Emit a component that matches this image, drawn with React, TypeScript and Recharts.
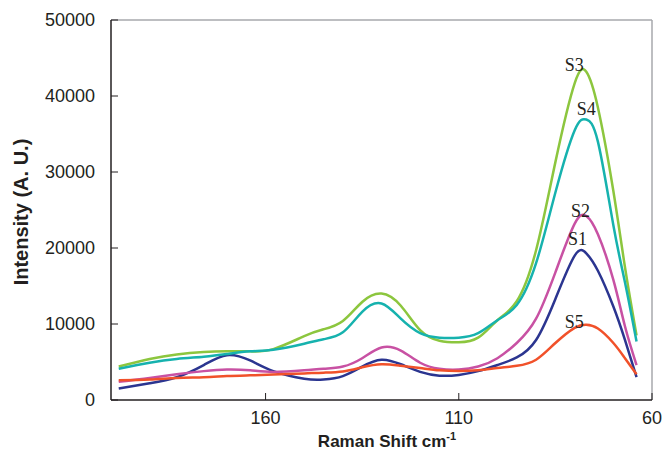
import { Line, LineChart, ReferenceDot, ReferenceLine, XAxis, YAxis, Label } from 'recharts';

// Raman shift (cm-1), plotted high -> low
const shifts = [198, 190, 183, 176, 170, 164, 158, 150, 145, 140, 135, 130, 125, 120, 115, 110, 105, 100, 95, 90, 85, 80, 77, 74, 70, 67, 64];

const s1 = [1500, 2200, 3000, 4600, 5900, 5200, 3800, 2800, 2700, 3150, 4400, 5300, 4700, 3700, 3200, 3300, 3800, 4600, 5600, 7900, 13300, 19000, 19300, 17000, 12300, 7900, 3000];
const s2 = [2400, 2900, 3400, 3800, 4000, 3900, 3700, 3900, 4100, 4400, 5500, 6900, 6500, 4900, 4100, 4000, 4400, 5500, 7500, 10700, 16800, 23200, 24200, 21800, 15800, 9700, 4600];
const s3 = [4400, 5400, 6000, 6300, 6400, 6400, 6700, 8400, 9300, 10400, 12900, 14000, 12400, 9200, 7800, 7600, 8200, 10500, 13000, 19700, 31300, 41700, 43200, 38500, 27500, 17500, 8500];
const s4 = [4100, 4900, 5400, 5700, 6050, 6400, 6600, 7400, 8000, 8900, 11600, 12700, 10700, 8800, 8200, 8200, 8800, 10500, 12500, 18000, 27300, 35500, 36900, 34000, 23000, 15500, 7700];
const s5 = [2600, 2700, 2900, 3000, 3150, 3250, 3350, 3500, 3600, 3750, 4300, 4700, 4500, 4200, 3900, 3800, 3900, 4200, 4500, 5300, 7500, 9500, 9900, 9400, 7500, 5500, 3400];

const xTicks = [160, 110, 60];
const yTicks = [0, 10000, 20000, 30000, 40000, 50000];

const series = [
  { key: 's1', name: 'S1', color: '#2b3590', label: [79.3, 21180] },
  { key: 's2', name: 'S2', color: '#c851a3', label: [78.5, 24870] },
  { key: 's3', name: 'S3', color: '#8cc63e', label: [80.1, 44080] },
  { key: 's4', name: 'S4', color: '#16b2ae', label: [77.0, 38290] },
  { key: 's5', name: 'S5', color: '#f1512a', label: [80.1, 10260] },
];

const data = shifts.map((x, i) => ({ x, s1: s1[i], s2: s2[i], s3: s3[i], s4: s4[i], s5: s5[i] }));

const AXIS = '#231f20';
const BOX = '#a7a9ac';
const SANS = 'Liberation Sans, Arial, sans-serif';

export default function App() {
  return (
    <div style={{ position: 'absolute', left: 0, top: 0 }}>
      <LineChart width={664} height={451} data={data} margin={{ top: 20, right: 12, left: 0, bottom: 0 }}>
        <XAxis
          dataKey="x"
          type="number"
          domain={[60, 200]}
          reversed
          ticks={xTicks}
          height={51}
          tickSize={-7}
          tickMargin={18}
          tick={{ fontSize: 18, fill: AXIS, fontFamily: SANS }}
          axisLine={{ stroke: AXIS, strokeWidth: 1.5 }}
          tickLine={{ stroke: AXIS }}
        >
          <Label
            content={() => (
              <text x={387} y={447} textAnchor="middle" fontFamily={SANS} fontWeight="bold" fontSize={17} fill={AXIS}>
                Raman Shift cm
                <tspan fontSize={11} dy={-7}>-1</tspan>
              </text>
            )}
          />
        </XAxis>
        <YAxis
          type="number"
          domain={[0, 50000]}
          ticks={yTicks}
          width={111}
          tickSize={-7}
          tickMargin={23}
          tick={{ fontSize: 18, fill: AXIS, fontFamily: SANS }}
          axisLine={{ stroke: AXIS, strokeWidth: 1.5 }}
          tickLine={{ stroke: AXIS }}
        >
          <Label
            content={() => (
              <text
                x={21}
                y={212}
                transform="rotate(-90 21 212)"
                textAnchor="middle"
                dominantBaseline="central"
                fontFamily={SANS}
                fontWeight="bold"
                fontSize={20}
                fill={AXIS}
              >
                Intensity (A. U.)
              </text>
            )}
          />
        </YAxis>
        <ReferenceLine y={50000} stroke={BOX} strokeWidth={1.5} />
        <ReferenceLine x={60} stroke={BOX} strokeWidth={1.5} />
        {series.map((s) => (
          <Line
            key={s.key}
            dataKey={s.key}
            name={s.name}
            type="natural"
            stroke={s.color}
            strokeWidth={2.5}
            dot={false}
            isAnimationActive={false}
          />
        ))}
        {series.map((s) => (
          <ReferenceDot
            key={`lbl-${s.key}`}
            x={s.label[0]}
            y={s.label[1]}
            r={0}
            fill="none"
            stroke="none"
            label={{ value: s.name, position: 'center', fontSize: 18, fill: '#231f20', fontFamily: 'Liberation Serif, Times New Roman, serif' }}
          />
        ))}
      </LineChart>
    </div>
  );
}
